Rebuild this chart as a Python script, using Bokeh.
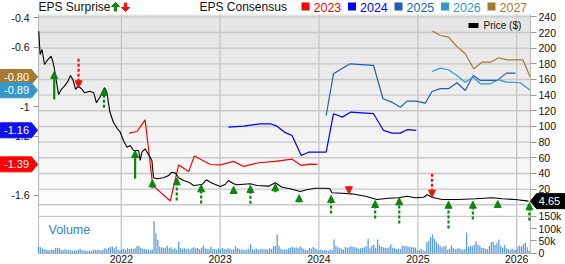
import numpy as np
import pandas as pd
from bokeh.plotting import figure
from bokeh.core.properties import value
from bokeh.models import (Range1d, LinearAxis, DatetimeAxis, FixedTicker, CustomJSTickFormatter,
                          DatetimeTickFormatter, ColumnDataSource, Arrow, NormalHead)
from bokeh.embed import file_html
from bokeh.resources import INLINE

# ---------------- data ----------------
PRICE_DATES = ["2021-03-02", "2021-03-07", "2021-03-14", "2021-03-23", "2021-04-05", "2021-04-17",
               "2021-04-24", "2021-04-29", "2021-05-06", "2021-05-14", "2021-05-24", "2021-06-05",
               "2021-06-18", "2021-06-27", "2021-07-06", "2021-07-16", "2021-07-25", "2021-08-06",
               "2021-08-19", "2021-09-06", "2021-09-21", "2021-10-01", "2021-10-13", "2021-10-23",
               "2021-10-31", "2021-11-09", "2021-11-19", "2021-12-03", "2021-12-17", "2021-12-28",
               "2022-01-09", "2022-01-22", "2022-02-03", "2022-02-15", "2022-03-06", "2022-03-12",
               "2022-03-18", "2022-03-30", "2022-04-06", "2022-04-18", "2022-04-24", "2022-04-30",
               "2022-05-13", "2022-06-06", "2022-06-25", "2022-07-07", "2022-07-20", "2022-08-01",
               "2022-08-19", "2022-09-07", "2022-09-25", "2022-10-26", "2022-11-11", "2022-11-26",
               "2022-12-14", "2023-01-02", "2023-01-20", "2023-02-01", "2023-02-20", "2023-03-04",
               "2023-04-23", "2023-05-17", "2023-06-29", "2023-07-24", "2023-08-18", "2023-09-17",
               "2023-10-24", "2023-11-17", "2023-12-18", "2024-01-24", "2024-02-11", "2024-02-18",
               "2024-03-26", "2024-05-02", "2024-06-21", "2024-08-03", "2024-09-15", "2024-10-22",
               "2024-11-22", "2024-12-23", "2025-01-22", "2025-02-04", "2025-02-22", "2025-03-31",
               "2025-05-31", "2025-08-01", "2025-10-02", "2025-11-08", "2025-12-27", "2026-02-14"]
PRICE = [221.7, 192.0, 198.3, 179.2, 185.6, 189.8, 181.4, 172.8, 157.9, 140.9, 147.3, 151.5,
         157.9, 165.1, 160.0, 147.3, 151.5, 148.5, 143.0, 145.1, 143.0, 130.3, 136.7, 144.3,
         149.4, 143.0, 119.5, 105.1, 97.4, 92.7, 82.1, 73.6, 75.7, 69.3, 69.3, 56.6,
         67.2, 71.5, 67.2, 60.8, 56.6, 34.5, 33.2, 34.5, 37.4, 41.6, 40.4, 34.5,
         31.0, 28.9, 24.6, 25.9, 31.9, 28.9, 25.9, 23.4, 25.9, 31.0, 26.8, 25.5,
         26.8, 24.6, 23.8, 28.1, 22.5, 20.4, 17.0, 19.2, 21.2, 21.2, 20.4, 15.3,
         14.8, 14.0, 11.0, 6.8, 8.4, 8.9, 11.0, 8.9, 9.7, 12.8, 9.7, 6.8,
         6.8, 7.7, 8.9, 7.7, 6.8, 4.65]

C2023_DATES = ["2022-01-30", "2022-02-28", "2022-03-30", "2022-04-27", "2022-07-01", "2022-08-01",
               "2022-09-07", "2022-09-28", "2022-11-26", "2023-01-02", "2023-02-20", "2023-03-29",
               "2023-05-23", "2023-07-24", "2023-09-24", "2023-10-28", "2023-11-30", "2023-12-27"]
C2023 = [-1.179, -1.168, -1.089, -1.532, -1.637, -1.394, -1.438, -1.333, -1.391, -1.393, -1.370,
         -1.404, -1.379, -1.370, -1.355, -1.397, -1.389, -1.39]

C2024_DATES = ["2023-02-01", "2023-03-29", "2023-05-30", "2023-07-06", "2023-07-30", "2023-08-30",
               "2023-09-24", "2023-10-28", "2023-11-24", "2024-01-28", "2024-02-24", "2024-03-28",
               "2024-04-28", "2024-07-21", "2024-08-27", "2024-09-27", "2024-10-28", "2024-11-22",
               "2024-12-26"]
C2024 = [-1.139, -1.132, -1.116, -1.116, -1.132, -1.176, -1.195, -1.330, -1.308, -1.308, -1.048,
         -1.071, -1.037, -1.048, -1.161, -1.179, -1.179, -1.156, -1.16]

C2025_DATES = ["2024-01-28", "2024-02-24", "2024-04-25", "2024-07-21", "2024-08-25", "2024-09-27",
               "2024-10-28", "2024-11-22", "2024-12-26", "2025-01-28", "2025-02-22", "2025-03-25",
               "2025-04-24", "2025-05-25", "2025-06-25", "2025-07-24", "2025-08-20", "2025-10-21",
               "2025-11-24", "2025-12-27"]
C2025 = [-1.060, -0.778, -0.711, -0.722, -0.947, -0.970, -1.004, -0.963, -0.963, -0.977, -0.898,
         -0.879, -0.879, -0.839, -0.891, -0.790, -0.823, -0.823, -0.774, -0.774]

C2026_DATES = ["2025-02-22", "2025-03-25", "2025-04-24", "2025-05-25", "2025-06-25", "2025-07-24",
               "2025-08-20", "2025-09-26", "2025-10-26", "2025-11-26", "2026-01-14", "2026-02-20"]
C2026 = [-0.763, -0.740, -0.751, -0.790, -0.835, -0.801, -0.846, -0.846, -0.819, -0.835, -0.839, -0.89]

C2027_DATES = ["2025-02-24", "2025-03-25", "2025-04-24", "2025-05-25", "2025-06-25", "2025-07-26",
               "2025-08-26", "2025-09-26", "2025-10-26", "2025-11-26", "2026-01-24", "2026-02-20"]
C2027 = [-0.490, -0.520, -0.531, -0.594, -0.643, -0.744, -0.700, -0.700, -0.670, -0.684, -0.684, -0.80]

# EPS surprise arrows: date, tip (on price scale), tail, dashed stem?
ARROW_DATES = ["2021-04-28", "2021-07-27", "2021-10-29", "2022-02-21", "2022-04-26", "2022-07-25",
               "2022-10-23", "2023-02-20", "2023-04-23", "2023-07-24", "2023-10-20", "2024-02-15",
               "2024-04-21", "2024-07-27", "2024-10-24", "2025-02-22", "2025-04-24", "2025-07-23",
               "2025-10-23", "2026-02-17"]
ARROW_TIP = [170.2, 149.4, 148.5, 69.3, 31.9, 34.5, 25.5, 23.4, 24.6, 26.8, 12.8, 11.9,
             14.0, 5.5, 8.9, 9.7, 4.6, 4.6, 5.5, 2.6]
ARROW_TAIL = [134.6, 186.5, 123.9, 33.2, 21.2, 5.5, 1.7, 14.0, 1.3, 16.1, 3.3, -11.1,
              23.8, -17.5, -23.9, 39.6, -30.3, -18.8, -3.4, -20.1]
ARROW_DASHED = [False, True, True, False, False, True, True, True, True, True, True, True,
                False, True, True, True, True, True, True, True]

VOL_START = "2021-03-01"   # weekly bars
VOL_K = [26, 24, 20, 16, 14, 13, 12, 15, 13, 22, 22, 21, 14, 12, 16, 12, 14, 12, 10, 12,
         11, 14, 18, 12, 11, 10, 9, 11, 8, 14, 13, 12, 13, 11, 14, 20, 17, 22, 26, 27,
         20, 28, 14, 12,
         16, 18, 14, 20, 17, 19, 17, 20, 30, 28, 22, 18, 17, 14, 15, 12, 15, 131, 80, 55,
         26, 24, 22, 23, 30, 20, 24, 16, 20, 14, 46, 22, 18, 20, 17, 19, 15, 22, 24, 20,
         21, 16, 22, 30, 20, 17, 18, 26, 16, 18, 14, 20, 15,
         22, 18, 16, 20, 18, 14, 16, 28, 20, 18, 14, 16, 12, 15, 18, 36, 16, 14, 18, 14,
         16, 18, 15, 17, 14, 20, 16, 28, 30, 76, 30, 18, 14,
         16, 14, 20, 22, 26, 22, 24, 20, 27, 22, 18, 14, 12, 22, 18, 25, 20, 16, 12, 14,
         12, 14, 12, 10, 14, 12, 56, 30, 24, 22, 18, 14, 26, 22, 24, 28, 26, 24, 22, 18,
         20, 22, 24, 28, 58, 20, 30, 34, 22, 56, 32, 26, 24, 22, 20, 24, 36, 22, 20, 16,
         18, 16, 30, 28, 30, 26, 26, 24, 24, 22, 10, 12, 18, 12, 10, 44, 50, 66, 76, 58,
         46, 38, 30, 24, 28, 30, 14, 18, 30, 20, 16, 18, 20, 16, 14, 16, 84, 26, 30, 28,
         34, 48, 34, 30, 22, 22, 18, 16, 30, 44, 46, 34, 42, 56, 30, 22, 34, 20, 16, 14,
         18, 14, 14, 26, 30, 28, 36, 42, 24, 10]

TAG_TEXT = ["-0.80", "-0.89", "-1.16", "-1.39"]
TAG_VALUE = [-0.80, -0.89, -1.16, -1.39]
LAST_PRICE_TEXT = "4.65"
LAST_PRICE = 4.65

YEARS = ["2022-01-01", "2023-01-01", "2024-01-01", "2025-01-01", "2026-01-01"]
EPS_TICKS = [-0.4, -0.6, -0.8, -1.0, -1.2, -1.4, -1.6]
PRICE_TICKS = [20, 40, 60, 80, 100, 120, 140, 160, 180, 200, 220, 240]
PRICE_GRID = [0] + PRICE_TICKS
VOL_TICKS = [0, 50000, 100000, 150000]
SERIES_YEARS = ["2023", "2024", "2025", "2026", "2027"]

# ---------------- style / layout ----------------
FONT = "Liberation Sans"
COL = {"2023": "#ff0000", "2024": "#0000ff", "2025": "#1f5fb4", "2026": "#3399cc", "2027": "#a9782f"}
TAG_COLORS = [COL["2027"], COL["2026"], "#1010ee", COL["2023"]]
GREEN = "#0a870a"
RED = "#f01010"
GRID = "#c8c8c8"

W, H = 565, 264
PL, PR, PT, PB = 38, 530, 14, 253          # plot-area edges in canvas pixels

X_START = pd.Timestamp("2021-03-01")
X_END = pd.Timestamp("2026-02-21")
PRICE_LO, PRICE_HI = -62.2, 243.0
EPS_LO, EPS_HI = -1.992, -0.378
VOL_LO, VOL_HI = -1500.0, 975000.0


def ms(d):
    return pd.Timestamp(d).value / 1e6


X0, X1 = ms(X_START), ms(X_END)
MPP = (X1 - X0) / (PR - PL)


def cx(px):                     # canvas x pixel -> data x
    return X0 + (px - PL) * MPP


def cy(py, lo=PRICE_LO, hi=PRICE_HI):   # canvas y pixel (from top) -> data y
    return lo + (PB - py) * (hi - lo) / (PB - PT)


def full_range(lo, hi):
    return Range1d(cy(H, lo, hi), cy(0, lo, hi))


p = figure(width=W, height=H, x_range=Range1d(cx(0), cx(W)), y_range=full_range(PRICE_LO, PRICE_HI),
           x_axis_location=None, y_axis_location=None, output_backend="svg", toolbar_location=None,
           min_border=0, min_border_left=0, min_border_right=0, min_border_top=0, min_border_bottom=0)
p.extra_y_ranges = {"eps": full_range(EPS_LO, EPS_HI), "vol": full_range(VOL_LO, VOL_HI)}
p.outline_line_color = None
p.grid.visible = False
p.background_fill_color = "white"
p.border_fill_color = "white"

# gradient background of the price area
n = 120
frac = np.linspace(0, 1, n)
g = np.round(252 - 24 * frac).astype(np.uint8)
img = np.zeros((n, 2), dtype=np.uint32)
view = img.view(dtype=np.uint8).reshape((n, 2, 4))
for k in range(3):
    view[:, :, k] = g[:, None]
view[:, :, 3] = 255
p.image_rgba(image=[img], x=X0, y=0, dw=X1 - X0, dh=PRICE_HI, level="image")

# grid lines (restricted to the plot area)
year_ticks = [ms(y) for y in YEARS]
hgrid = [VOL_TICKS[-1]] 
hgrid_y = [cy(PB - (VOL_TICKS[-1] - VOL_LO) / (VOL_HI - VOL_LO) * (PB - PT))] + PRICE_GRID
p.segment(x0=year_ticks, x1=year_ticks, y0=[PRICE_LO] * len(year_ticks), y1=[PRICE_HI] * len(year_ticks),
          line_color=GRID, line_width=1.4, level="underlay")
p.segment(x0=[X0] * len(hgrid_y), x1=[X1] * len(hgrid_y), y0=hgrid_y, y1=hgrid_y,
          line_color=GRID, line_width=1.4, level="underlay")
# plot-area edges
p.segment(x0=[X0, X0, X1], x1=[X0, X1, X1], y0=[PRICE_LO, PRICE_LO, PRICE_LO], y1=[PRICE_HI, PRICE_LO, PRICE_HI],
          line_color="#bdbdbd", line_width=1.2, level="underlay")

# volume
vol_dates = pd.date_range(VOL_START, periods=len(VOL_K), freq="7D")
p.vbar(x=vol_dates, top=[v * 1000 for v in VOL_K], width=4.6 * 86400000, y_range_name="vol",
       fill_color="#5b9bd5", line_color=None)

# consensus lines
for yr, d, v in zip(SERIES_YEARS, [C2023_DATES, C2024_DATES, C2025_DATES, C2026_DATES, C2027_DATES],
                    [C2023, C2024, C2025, C2026, C2027]):
    p.line(pd.to_datetime(d), v, y_range_name="eps", line_color=COL[yr], line_width=1.2)

# price
p.line(pd.to_datetime(PRICE_DATES), PRICE, line_color="black", line_width=1.1)

# surprise arrows
adates = pd.to_datetime(ARROW_DATES)
for up in (True, False):
    for dashed in (False, True):
        idx = [i for i in range(len(ARROW_TIP))
               if (ARROW_TIP[i] > ARROW_TAIL[i]) == up and ARROW_DASHED[i] == dashed]
        if not idx:
            continue
        c = GREEN if up else RED
        src = ColumnDataSource(dict(x=[adates[i] for i in idx],
                                    y0=[ARROW_TAIL[i] for i in idx],
                                    y1=[ARROW_TIP[i] for i in idx]))
        p.add_layout(Arrow(end=NormalHead(size=7, fill_color=c, line_color=c, line_width=1),
                           x_start="x", y_start="y0", x_end="x", y_end="y1", source=src,
                           line_color=c, line_width=2.2, line_dash="3 2" if dashed else "solid"))

# axes pinned to the plot-area edges
left = LinearAxis(y_range_name="eps", fixed_location=X0, ticker=FixedTicker(ticks=EPS_TICKS),
                  formatter=CustomJSTickFormatter(code="return String(Math.round(tick*10)/10);"))
vol_tick_pos = [PRICE_LO + (v - VOL_LO) / (VOL_HI - VOL_LO) * (PRICE_HI - PRICE_LO) for v in VOL_TICKS]
right = LinearAxis(fixed_location=X1, ticker=FixedTicker(ticks=vol_tick_pos + PRICE_TICKS),
                   formatter=CustomJSTickFormatter(
                       args=dict(plo=PRICE_LO, phi=PRICE_HI, vlo=VOL_LO, vhi=VOL_HI),
                       code="""
if (tick < -1) {
  const v = Math.round(((tick - plo) / (phi - plo) * (vhi - vlo) + vlo) / 1000);
  return v === 0 ? "0" : v + "k";
}
return String(Math.round(tick));
"""))
bottom = DatetimeAxis(fixed_location=PRICE_LO, ticker=FixedTicker(ticks=year_ticks),
                      formatter=DatetimeTickFormatter(years="%Y", months="%Y", days="%Y", hours="%Y"))
for ax in (left, right, bottom):
    ax.major_label_text_font = FONT
    ax.major_label_text_font_size = "10.5px"
    ax.major_label_text_color = "#111111"
    ax.axis_line_color = None
    ax.major_tick_line_color = "#999999"
    ax.major_tick_in = 0
    ax.minor_tick_line_color = None
left.major_tick_out = 5
left.major_label_standoff = 4
right.major_tick_out = 6
right.major_label_standoff = 2
bottom.major_tick_line_color = None
bottom.major_tick_out = 0
bottom.major_label_standoff = 1
p.add_layout(left, "left")
p.add_layout(right, "right")
p.add_layout(bottom, "below")

TXT = dict(text_font=value(FONT), level="overlay")

# price legend
p.quad(left=[cx(468)], right=[cx(478)], top=[cy(22.5)], bottom=[cy(27.5)], fill_color="black",
       line_color=None)
p.text(x=[cx(483)], y=[cy(25)], text=["Price ($)"], text_font_size="10px", text_baseline="middle",
       text_color="#111111", **TXT)

# left EPS tags (drawn above the left axis)
h = 7.5 / (PB - PT) * (EPS_HI - EPS_LO)
tag_xs = [[cx(0), cx(31), cx(37), cx(31), cx(0)] for _ in TAG_VALUE]
tag_ys = [[v + h, v + h, v, v - h, v - h] for v in TAG_VALUE]
p.patches(xs=tag_xs, ys=tag_ys, y_range_name="eps", fill_color=TAG_COLORS, line_color=TAG_COLORS,
          level="overlay")
p.text(x=[cx(16)] * len(TAG_VALUE), y=TAG_VALUE, text=TAG_TEXT, y_range_name="eps", text_align="center",
       text_baseline="middle", text_color="white", text_font_size="11px", **TXT)

# right last-price tag
hp = 7.5 / (PB - PT) * (PRICE_HI - PRICE_LO)
p.patch(x=[cx(530), cx(536), cx(565), cx(565), cx(536)],
        y=[LAST_PRICE, LAST_PRICE + hp, LAST_PRICE + hp, LAST_PRICE - hp, LAST_PRICE - hp],
        fill_color="black", line_color="black", level="overlay")
p.text(x=[cx(549)], y=[LAST_PRICE], text=[LAST_PRICE_TEXT], text_align="center", text_baseline="middle",
       text_color="white", text_font_size="11px", **TXT)

# header
p.text(x=[cx(38), cx(199)], y=[cy(6.5)] * 2, text=["EPS Surprise", "EPS Consensus"],
       text_baseline="middle", text_color="#111111", text_font_size="12px", **TXT)
up_shape = [(0, -4.5), (4, -0.5), (1.2, -0.5), (1.2, 4), (-1.2, 4), (-1.2, -0.5), (-4, -0.5)]
dn_shape = [(dx, -dy) for dx, dy in up_shape]
p.patches(xs=[[cx(115 + dx) for dx, _ in up_shape], [cx(125 + dx) for dx, _ in dn_shape]],
          ys=[[cy(6.5 + dy) for _, dy in up_shape], [cy(6.5 + dy) for _, dy in dn_shape]],
          fill_color=[GREEN, RED], line_color=[GREEN, RED], level="overlay")
sq_left = [301 + 46.5 * i for i in range(len(SERIES_YEARS))]
p.quad(left=[cx(s) for s in sq_left], right=[cx(s + 8) for s in sq_left],
       top=[cy(2)] * len(sq_left), bottom=[cy(10)] * len(sq_left),
       fill_color=[COL[y] for y in SERIES_YEARS], line_color=None, level="overlay")
p.text(x=[cx(s + 12) for s in sq_left], y=[cy(6.5)] * len(sq_left), text=SERIES_YEARS,
       text_color=[COL[y] for y in SERIES_YEARS], text_baseline="middle", text_font_size="12.5px", **TXT)

# volume caption
p.text(x=[cx(48)], y=[cy(229)], text=["Volume"], text_color="#2f7fc1", text_baseline="middle",
       text_font_size="12.5px", **TXT)

open("out.html", "w").write(file_html(p, INLINE))
